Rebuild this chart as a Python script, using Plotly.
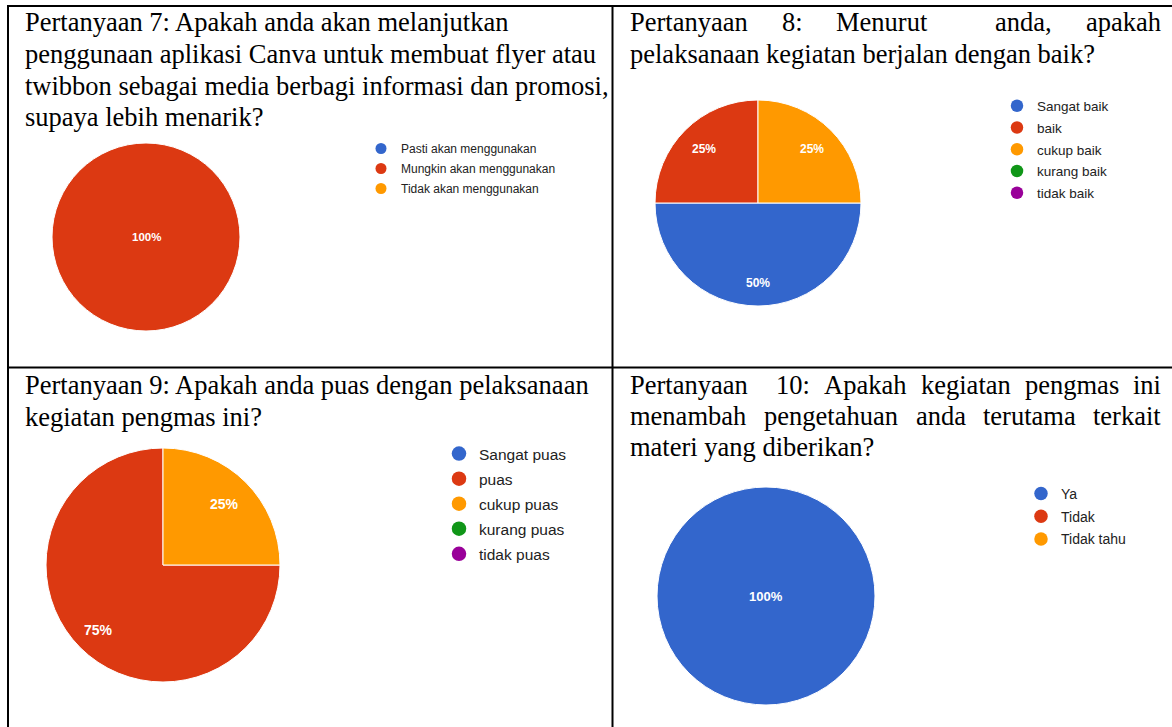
import math
import plotly.graph_objects as go

W, H = 1172, 727

# ---------------- data ----------------
q7_labels = ["Pasti akan menggunakan", "Mungkin akan menggunakan", "Tidak akan menggunakan"]
q7_values = [0, 100, 0]

q8_labels = ["Sangat baik", "baik", "cukup baik", "kurang baik", "tidak baik"]
q8_values = [50, 25, 25, 0, 0]

q9_labels = ["Sangat puas", "puas", "cukup puas", "kurang puas", "tidak puas"]
q9_values = [0, 75, 25, 0, 0]

q10_labels = ["Ya", "Tidak", "Tidak tahu"]
q10_values = [100, 0, 0]

palette = ["#3366cc", "#dc3912", "#ff9900", "#109618", "#990099"]

q7_lines = ["Pertanyaan 7: Apakah anda akan melanjutkan",
            "penggunaan aplikasi Canva untuk membuat flyer atau",
            "twibbon sebagai media berbagi informasi dan promosi,",
            "supaya lebih menarik?"]
q8_line1_words = ["Pertanyaan", "8:", "Menurut", "anda,", "apakah"]
q8_line2 = "pelaksanaan kegiatan berjalan dengan baik?"
q9_lines = ["Pertanyaan 9: Apakah anda puas dengan pelaksanaan",
            "kegiatan pengmas ini?"]
q10_line1_words = ["Pertanyaan", "10:", "Apakah", "kegiatan", "pengmas", "ini"]
q10_line2_words = ["menambah", "pengetahuan", "anda", "terutama", "terkait"]
q10_line3 = "materi yang diberikan?"

# ---------------- layout helpers (pixel -> paper) ----------------
def px(x):
    return x / W

def py(y):
    return 1 - y / H

SERIF = "Liberation Serif, Times New Roman, serif"
SANS = "Liberation Sans, Arial, sans-serif"
QSIZE = 26.5
START_ANGLE = 90  # first slice starts at 3 o'clock, going clockwise

fig = go.Figure()
annotations = []

pies = [
    # labels, values, center x, center y, radius, text size, legend id, marker size
    (q7_labels, q7_values, 146, 237, 94, 11.5, "legend", 11),
    (q8_labels, q8_values, 758, 203, 103, 12, "legend2", 12.5),
    (q9_labels, q9_values, 163, 565, 117, 14, "legend3", 14.5),
    (q10_labels, q10_values, 766, 596, 109, 13, "legend4", 13.5),
]

for labels, values, cx, cy, r, tsize, lg, msize in pies:
    keep = [i for i, v in enumerate(values) if v > 0]
    fig.add_trace(go.Pie(
        labels=[labels[i] for i in keep],
        values=[values[i] for i in keep],
        marker=dict(colors=[palette[i] for i in keep], line=dict(color="white", width=1)),
        sort=False, direction="clockwise", rotation=START_ANGLE,
        textinfo="none",
        domain=dict(x=[px(cx - r), px(cx + r)], y=[py(cy + r), py(cy - r)]),
        showlegend=False, hoverinfo="skip",
    ))
    # percentage labels, placed like Google Forms charts (fixed fraction of radius)
    total = float(sum(values))
    cum = 0.0
    for v in values:
        if v <= 0:
            continue
        frac = v / total
        if frac >= 0.999:
            lx, ly = cx, cy
        else:
            mid = math.radians(START_ANGLE + 360 * (cum + frac / 2))
            rr = 0.74 if frac < 0.4 else 0.78
            lx = cx + rr * r * math.sin(mid)
            ly = cy - rr * r * math.cos(mid)
        cum += frac
        annotations.append(dict(
            text=f"{round(frac * 100)}%", x=px(lx), y=py(ly), xref="paper", yref="paper",
            xanchor="center", yanchor="middle", showarrow=False,
            font=dict(family=SANS, size=tsize, color="white", weight="bold")))
    # legend entries (circle markers) for every answer option
    for i, lab in enumerate(labels):
        fig.add_trace(go.Scatter(
            x=[None], y=[None], mode="markers", name=lab,
            marker=dict(color=palette[i], size=msize, symbol="circle", line=dict(width=0)),
            legend=lg, legendgroup=f"{lg}_{i}", showlegend=True, hoverinfo="skip",
        ))

def leg(xl, ytop, size, gap):
    return dict(x=px(xl), y=py(ytop), xanchor="left", yanchor="top",
                bgcolor="rgba(0,0,0,0)", borderwidth=0,
                font=dict(family=SANS, size=size, color="#222222"),
                tracegroupgap=gap, itemclick=False, itemdoubleclick=False)

def add_text(text, x, y):
    annotations.append(dict(text=text, x=px(x), y=py(y), xref="paper", yref="paper",
                            xanchor="left", yanchor="middle", showarrow=False,
                            font=dict(family=SERIF, size=QSIZE, color="black")))

# Q7
for k, line in enumerate(q7_lines):
    add_text(line, 23, 22 + k * 31.8)
# Q8 (justified first line)
for w, x in zip(q8_line1_words, [629, 780.7, 835.2, 994.3, 1084.9]):
    add_text(w, x - 1, 22)
add_text(q8_line2, 628, 54)
# Q9
for k, line in enumerate(q9_lines):
    add_text(line, 23, 385 + k * 31.5)
# Q10 (justified first two lines)
for w, x in zip(q10_line1_words, [629, 775.1, 823.2, 919.7, 1023.7, 1132.0]):
    add_text(w, x - 1, 385)
for w, x in zip(q10_line2_words, [629, 763.0, 914.5, 982.1, 1092.4]):
    add_text(w, x - 1, 416)
add_text(q10_line3, 628, 447)

# table borders
shapes = []
def line(x0, y0, x1, y1):
    shapes.append(dict(type="line", xref="paper", yref="paper",
                       x0=px(x0), y0=py(y0), x1=px(x1), y1=py(y1),
                       line=dict(color="black", width=2)))
line(8, 6, 8, H + 2)
line(612.5, 6, 612.5, H + 2)
line(7, 6, W + 2, 6)
line(7, 367.5, W + 2, 367.5)

fig.update_layout(
    width=W, height=H,
    margin=dict(l=0, r=0, t=0, b=0),
    paper_bgcolor="white", plot_bgcolor="white",
    xaxis=dict(visible=False), yaxis=dict(visible=False),
    legend=leg(361, 134, 12, 1),
    legend2=leg(997, 90.5, 13.5, 1.2),
    legend3=leg(439, 437, 15.5, 1.9),
    legend4=leg(1021, 478, 14, 1.5),
    annotations=annotations,
    shapes=shapes,
)

fig.write_html("out.html", config={"displayModeBar": False},
               post_script="document.body.style.margin='0';document.body.style.overflow='hidden';")
